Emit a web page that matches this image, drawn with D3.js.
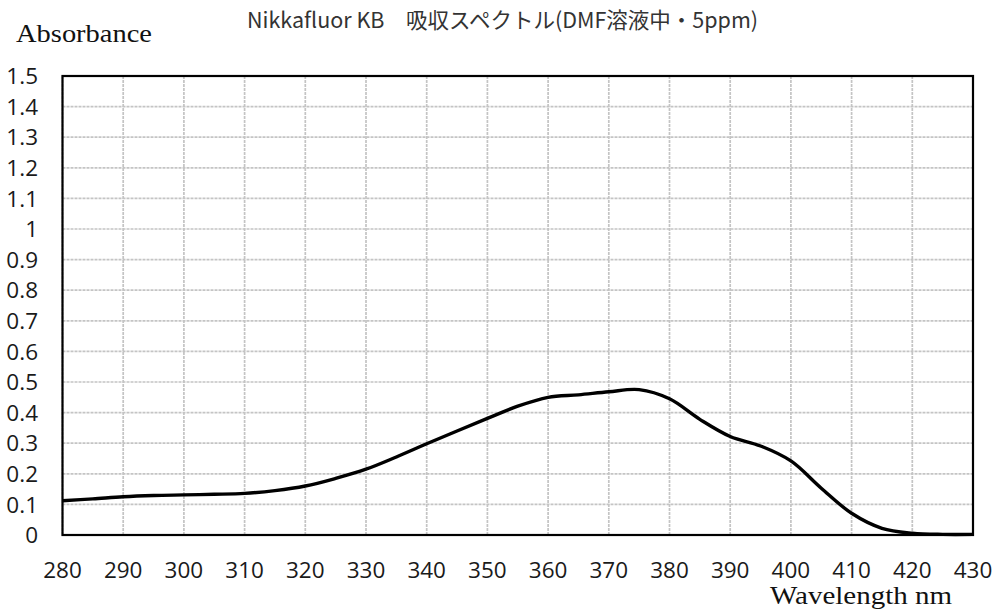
<!DOCTYPE html>
<html>
<head>
<meta charset="utf-8">
<script src="https://cdn.jsdelivr.net/npm/d3@7"></script>
<style>
  body { margin: 0; background: #fff; }
  .tick-label { font-family: "Open Sans", sans-serif; font-size: 22.5px; fill: #1a1a1a; }
  .axis-title { font-family: "Liberation Serif", serif; font-size: 25px; fill: #111; }
  .chartTitle { font-family: "Noto Sans CJK JP", "Open Sans", sans-serif; font-size: 21.5px; fill: #333; }
</style>
</head>
<body>
<svg id="chart" width="997" height="613"></svg>
<script>
// data
const wavelength = [280, 285, 290, 295, 300, 305, 310, 315, 320, 325, 330, 335, 340, 345, 350,
                    355, 360, 365, 370, 375, 380, 385, 390, 395, 400, 405, 410, 415, 420, 425, 430];
const absorbance = [0.112, 0.118, 0.125, 0.129, 0.131, 0.133, 0.136, 0.145, 0.160, 0.185, 0.215,
                    0.255, 0.298, 0.340, 0.381, 0.421, 0.450, 0.458, 0.468, 0.475, 0.445, 0.378,
                    0.322, 0.291, 0.242, 0.153, 0.071, 0.022, 0.006, 0.002, 0.002];
const xTicks = [280, 290, 300, 310, 320, 330, 340, 350, 360, 370, 380, 390, 400, 410, 420, 430];
const yTicks = [0, 0.1, 0.2, 0.3, 0.4, 0.5, 0.6, 0.7, 0.8, 0.9, 1, 1.1, 1.2, 1.3, 1.4, 1.5];

const svg = d3.select("#chart");
const margin = {top: 76, right: 24, bottom: 78, left: 62.5};
const width = 997, height = 613;

const x = d3.scaleLinear().domain([280, 430]).range([margin.left, width - margin.right]);
const y = d3.scaleLinear().domain([0, 1.5]).range([height - margin.bottom, margin.top]);

// grid
const grid = svg.append("g").attr("class", "grid");
grid.selectAll("line.vx")
  .data(xTicks)
  .enter()
  .append("line")
    .attr("x1", d => x(d)).attr("x2", d => x(d))
    .attr("y1", y(0)).attr("y2", y(1.5))
    .attr("stroke", "#c4c4c4")
    .attr("stroke-width", 1.7)
    .attr("stroke-dasharray", "3,1");

grid.selectAll("line.hy")
  .data(yTicks)
  .enter()
  .append("line")
    .attr("x1", x(280)).attr("x2", x(430))
    .attr("y1", d => y(d)).attr("y2", d => y(d))
    .attr("stroke", "#c4c4c4")
    .attr("stroke-width", 1.7)
    .attr("stroke-dasharray", "3,1");

// curve
const line = d3.line()
  .x((d, i) => x(wavelength[i]))
  .y(d => y(d))
  .curve(d3.curveCatmullRom.alpha(0.5));

svg.append("path")
  .datum(absorbance)
  .attr("d", line)
  .attr("fill", "none")
  .attr("stroke", "#000")
  .attr("stroke-width", 3.4)
  .attr("stroke-linejoin", "round");

// frame
svg.append("rect")
  .attr("x", x(280)).attr("y", y(1.5))
  .attr("width", x(430) - x(280)).attr("height", y(0) - y(1.5))
  .attr("fill", "none")
  .attr("stroke", "#000")
  .attr("stroke-width", 2.2);

// tick labels
svg.append("g").selectAll("text")
  .data(yTicks)
  .enter()
  .append("text")
    .attr("class", "tick-label")
    .attr("x", 38)
    .attr("y", d => y(d))
    .attr("dy", "0.36em")
    .attr("text-anchor", "end")
    .text(d => d);

svg.append("g").selectAll("text")
  .data(xTicks)
  .enter()
  .append("text")
    .attr("class", "tick-label")
    .attr("x", d => x(d))
    .attr("y", 578)
    .attr("text-anchor", "middle")
    .text(d => d);

// titles
svg.append("text")
  .attr("class", "axis-title")
  .attr("x", 16).attr("y", 42)
  .attr("textLength", 136)
  .attr("lengthAdjust", "spacingAndGlyphs")
  .text("Absorbance");

svg.append("text")
  .attr("class", "axis-title")
  .attr("x", 770).attr("y", 604)
  .attr("textLength", 182)
  .attr("lengthAdjust", "spacingAndGlyphs")
  .text("Wavelength nm");

svg.append("text")
  .attr("class", "chartTitle")
  .attr("x", 247).attr("y", 28)
  .text("Nikkafluor KB\u3000吸収スペクトル(DMF溶液中・5ppm)");
</script>
</body>
</html>
